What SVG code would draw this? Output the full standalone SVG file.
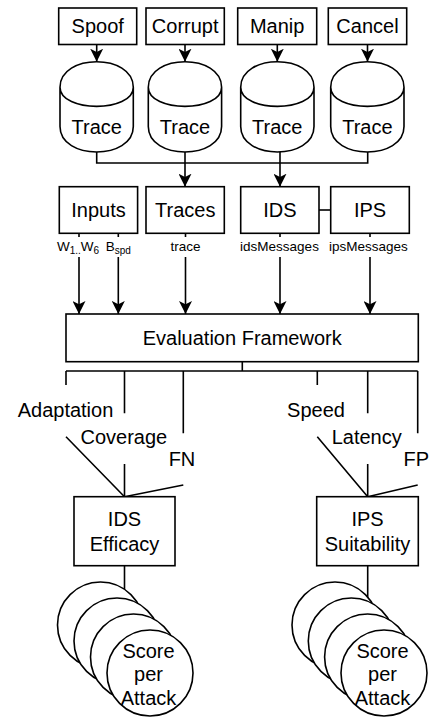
<svg xmlns="http://www.w3.org/2000/svg" width="432" height="717" viewBox="0 0 432 717">
<style>
.box{fill:#fff;stroke:#000;stroke-width:1.6}
.e{fill:none;stroke:#000;stroke-width:1.6}
.t{font-family:"Liberation Sans",Arial,Helvetica,sans-serif;font-size:20px;text-anchor:middle;fill:#000}
.s{font-size:13.5px}
</style>
<defs>
<marker id="arr" viewBox="0 0 12 12" refX="12" refY="6" markerWidth="13" markerHeight="13" markerUnits="userSpaceOnUse" orient="auto">
<path d="M0,0 L12,6 L0,12 L3,6 Z" fill="#000"/>
</marker>
<path id="cyl" d="M0,25.5 C0,-8.5 73.3,-8.5 73.3,25.5 L73.3,64.8 C73.3,98.8 0,98.8 0,64.8 Z M0,25.5 C0,51 73.3,51 73.3,25.5"/>
</defs>
<rect width="432" height="717" fill="#fff"/>

<g id="connectors">
<path class="e" marker-end="url(#arr)" d="M96.7,44.5 V61.7"/>
<path class="e" marker-end="url(#arr)" d="M185,44.5 V61.7"/>
<path class="e" marker-end="url(#arr)" d="M277.3,44.5 V61.7"/>
<path class="e" marker-end="url(#arr)" d="M367.5,44.5 V61.7"/>
<path class="e" d="M96.7,152 V163 H367.7 V152"/>
<path class="e" marker-end="url(#arr)" d="M185,152 V186.7"/>
<path class="e" marker-end="url(#arr)" d="M280,152 V186.7"/>
<path class="e" d="M319,210 H330.7"/>
<path class="e" marker-end="url(#arr)" d="M79,233.3 V237 M79,257 V314"/>
<path class="e" marker-end="url(#arr)" d="M118.3,233.3 V237 M118.3,257 V314"/>
<path class="e" marker-end="url(#arr)" d="M185.5,233.3 V237 M185.5,257 V314"/>
<path class="e" marker-end="url(#arr)" d="M280,233.3 V237 M280,257 V314"/>
<path class="e" marker-end="url(#arr)" d="M370,233.3 V237 M370,257 V314"/>
<text class="t s" x="78" y="251">W<tspan font-size="10" dy="3">1..</tspan><tspan dy="-3">W</tspan><tspan font-size="10" dy="3">6</tspan></text>
<text class="t s" x="118.3" y="251">B<tspan font-size="10" dy="3">spd</tspan></text>
<text class="t s" x="185.5" y="251">trace</text>
<text class="t s" x="279.5" y="251">idsMessages</text>
<text class="t s" x="368.3" y="251">ipsMessages</text>
<path class="e" d="M242.3,361.7 V371 M66,371 H417.7"/>
<path class="e" d="M66,371 V385 M66,436.7 L124.5,496.7"/>
<path class="e" d="M124.5,371 V413.3 M124.5,464 V496.7"/>
<path class="e" d="M183.3,371 V433.3 M183.3,485 L124.5,496.7"/>
<path class="e" d="M317.3,371 V385 M317.3,436.7 L367.7,496.7"/>
<path class="e" d="M367.7,371 V413.3 M367.7,464 V496.7"/>
<path class="e" d="M417.7,371 V433.3 M417.7,485 L367.7,496.7"/>
<text class="t" x="65.5" y="417">Adaptation</text>
<text class="t" x="123.8" y="444">Coverage</text>
<text class="t" x="182" y="466">FN</text>
<text class="t" x="316" y="417">Speed</text>
<text class="t" x="366.7" y="444">Latency</text>
<text class="t" x="416.3" y="466">FP</text>
<path class="e" d="M124.5,565.7 V625 M367.7,565.7 V625"/>
</g>

<g id="spoof"><rect class="box" x="58.7" y="8" width="78" height="36.5"/><text class="t" x="97.7" y="33">Spoof</text></g>
<g id="corrupt"><rect class="box" x="146" y="8" width="78.3" height="36.5"/><text class="t" x="185.2" y="33">Corrupt</text></g>
<g id="manip"><rect class="box" x="237.7" y="8" width="79" height="36.5"/><text class="t" x="277.2" y="33">Manip</text></g>
<g id="cancel"><rect class="box" x="328.3" y="8" width="78.4" height="36.5"/><text class="t" x="367.5" y="33">Cancel</text></g>

<g id="trace1"><use href="#cyl" class="box" x="60" y="61.7"/><text class="t" x="96.7" y="134">Trace</text></g>
<g id="trace2"><use href="#cyl" class="box" x="148.3" y="61.7"/><text class="t" x="185" y="134">Trace</text></g>
<g id="trace3"><use href="#cyl" class="box" x="240.7" y="61.7"/><text class="t" x="277.3" y="134">Trace</text></g>
<g id="trace4"><use href="#cyl" class="box" x="330.7" y="61.7"/><text class="t" x="367.4" y="134">Trace</text></g>

<g id="inputs"><rect class="box" x="59.3" y="186.7" width="78.3" height="46.6"/><text class="t" x="98.5" y="217">Inputs</text></g>
<g id="traces"><rect class="box" x="146" y="186.7" width="78.3" height="46.6"/><text class="t" x="185.2" y="217">Traces</text></g>
<g id="ids"><rect class="box" x="240.7" y="186.7" width="78.3" height="46.6"/><text class="t" x="279.8" y="217">IDS</text></g>
<g id="ips"><rect class="box" x="330.7" y="186.7" width="78.6" height="46.6"/><text class="t" x="370" y="217">IPS</text></g>

<g id="eval"><rect class="box" x="66" y="314" width="352.3" height="47.7"/><text class="t" x="242.2" y="344.5">Evaluation Framework</text></g>

<g id="idsEfficacy"><rect class="box" x="74" y="496.7" width="101" height="69"/><text class="t" x="124.5" y="526">IDS</text><text class="t" x="124.5" y="551">Efficacy</text></g>
<g id="ipsSuitability"><rect class="box" x="316.7" y="496.7" width="101.6" height="69"/><text class="t" x="367.5" y="526">IPS</text><text class="t" x="367.5" y="551">Suitability</text></g>

<g id="idsScores">
<circle class="box" cx="100.5" cy="625" r="43"/>
<circle class="box" cx="117" cy="641" r="43"/>
<circle class="box" cx="133.5" cy="657" r="43"/>
<circle class="box" cx="150" cy="673" r="43"/>
<text class="t" x="148.5" y="657.5">Score</text><text class="t" x="148.5" y="681">per</text><text class="t" x="148.5" y="705">Attack</text>
</g>
<g id="ipsScores">
<circle class="box" cx="335" cy="625" r="43"/>
<circle class="box" cx="351.3" cy="641" r="43"/>
<circle class="box" cx="367.6" cy="657" r="43"/>
<circle class="box" cx="384" cy="673" r="43"/>
<text class="t" x="382.5" y="657.5">Score</text><text class="t" x="382.5" y="681">per</text><text class="t" x="382.5" y="705">Attack</text>
</g>
</svg>
